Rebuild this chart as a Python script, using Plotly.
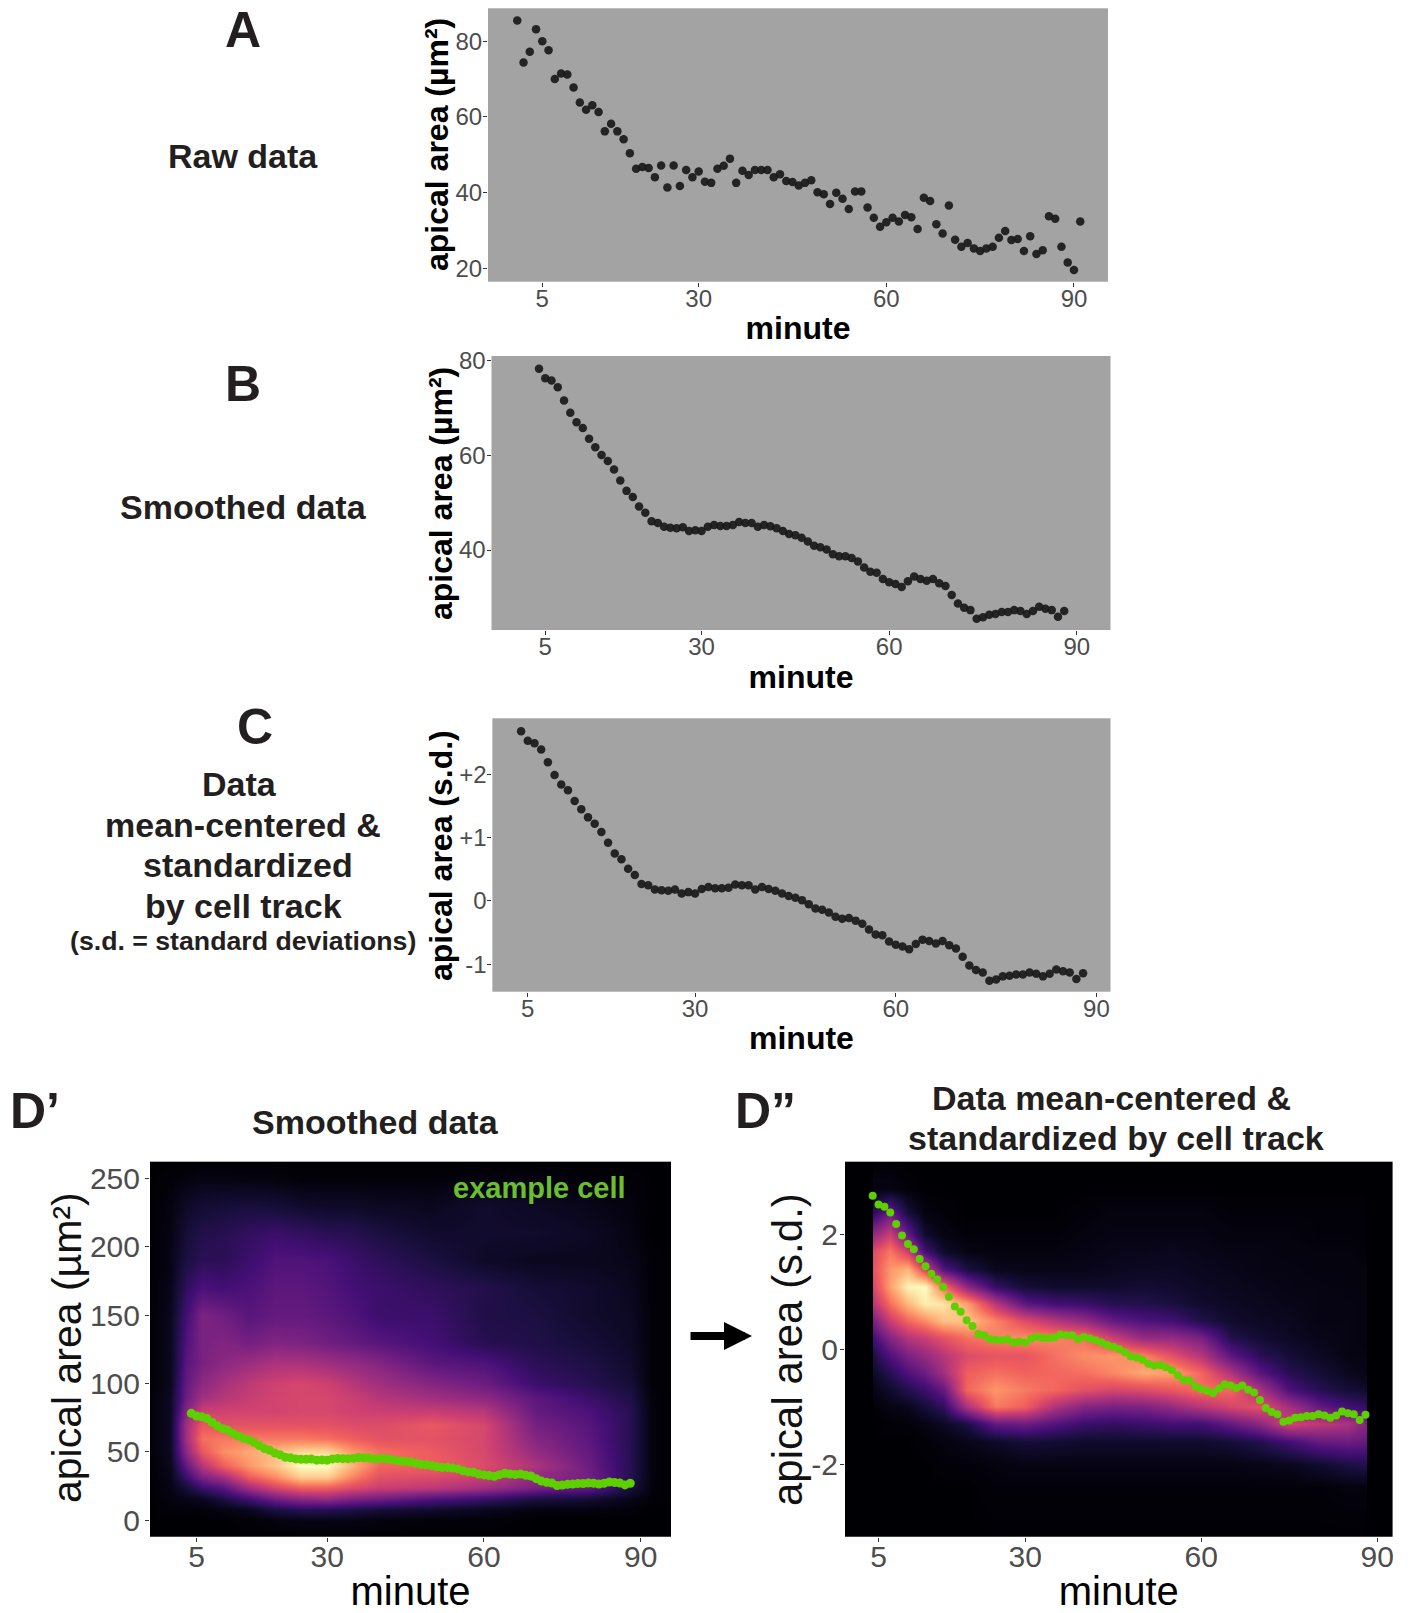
import numpy as np
import plotly.graph_objects as go

# ---------- data ----------
raw_minute = list(range(1, 92))
raw_area = [85.5,74.4,77.2,83.2,80,77.6,70,71.5,71.2,67.8,63.8,61.9,63.1,61.3,56.2,58.2,56.2,54.1,50.4,46.3,
            46.8,46.5,44.1,47.2,41.4,47.2,41.8,46,44.1,45.6,42.9,42.6,46.3,47.1,49,42.6,45.8,44.7,46,46,
            46,44.1,44.9,43.1,42.8,41.9,42.6,43.3,40.1,39.6,37,40,38.4,35.7,40.3,40.3,36.1,33.4,31,32.2,
            33.4,32.4,34.1,33.5,30.4,38.7,37.8,31.7,29.2,36.6,27.6,25.7,26.7,25.3,24.6,25.3,25.7,28.1,29.9,27.5,
            27.8,24.6,28.5,23.8,24.8,33.8,33.1,25.7,21.6,19.6,32.4]

smooth_minute = list(range(4, 89))
smooth_area = [78.3,76.3,75.8,74.4,71.6,69,67,65.8,63.5,61.7,60.1,58.8,57,54.7,52.5,51.2,49.2,47.9,46.1,45.7,
               44.9,44.7,44.6,44.8,44,44.2,44,44.9,45.3,45.1,45.1,45.3,45.9,45.7,45.7,44.9,45.3,45,44.6,44,
               43.4,43.1,42.6,41.8,40.9,40.6,40.1,39.1,38.7,38.7,38.3,37.6,36.3,35.4,35.2,33.9,33.2,32.8,32.2,33.4,
               34.4,33.9,33.5,33.9,33,32.4,30.5,28.7,27.8,27.3,25.5,25.8,26.3,26.5,26.9,26.9,27.3,27.1,26.5,27.1,
               28,27.6,27.3,25.9,27.1]
standard_sd = [2.68,2.53,2.49,2.39,2.19,1.99,1.84,1.75,1.58,1.45,1.32,1.22,1.09,.92,.75,.66,.51,.41,.27,.25,
               .18,.17,.16,.18,.12,.14,.12,.19,.22,.2,.2,.21,.26,.25,.25,.18,.22,.19,.16,.12,
               .08,.05,.01,-.05,-.12,-.14,-.18,-.25,-.28,-.27,-.31,-.36,-.45,-.53,-.54,-.64,-.69,-.72,-.76,-.68,
               -.61,-.63,-.67,-.63,-.7,-.75,-.88,-1.02,-1.09,-1.13,-1.26,-1.24,-1.19,-1.18,-1.16,-1.16,-1.13,-1.15,-1.19,-1.15,
               -1.08,-1.11,-1.13,-1.23,-1.14]

# density read by eye, one list per minute column, bottom row first
dens1_minute = [-4,0,3,6,10,15,20,25,30,35,40,50,60,70,80,88,92,96]
dens1_area = [-12,0,8,16,24,32,40,50,60,70,80,90,100,115,130,150,170,190,210,230,250,262]
dens1_columns = [
 [0]*22,
 [0,0,.01,.02,.03,.04,.05,.06,.06,.06,.06,.06,.05,.05,.05,.05,.04,.03,.03,.02,.01,0],
 [0,0,.01,.04,.1,.2,.3,.4,.45,.45,.38,.32,.3,.27,.25,.22,.17,.12,.1,.07,.02,0],
 [0,0,.01,.05,.2,.36,.5,.64,.7,.64,.55,.45,.4,.35,.35,.36,.24,.16,.14,.09,.03,0],
 [0,0,.03,.12,.27,.46,.66,.76,.72,.62,.56,.5,.46,.4,.37,.33,.22,.16,.15,.1,.03,0],
 [0,.01,.05,.22,.45,.66,.78,.82,.72,.62,.57,.54,.52,.44,.34,.27,.24,.2,.18,.11,.02,0],
 [0,.02,.12,.33,.58,.76,.88,.86,.72,.62,.57,.57,.56,.48,.37,.3,.28,.25,.2,.1,.02,0],
 [0,.03,.15,.4,.66,.9,1.0,.92,.72,.62,.58,.58,.58,.48,.36,.3,.28,.25,.18,.08,.01,0],
 [0,.03,.15,.42,.66,.9,1.0,.92,.7,.62,.58,.58,.56,.45,.33,.28,.26,.24,.16,.07,.01,0],
 [0,.03,.13,.36,.6,.74,.84,.78,.66,.6,.56,.55,.5,.42,.3,.25,.22,.2,.15,.07,.01,0],
 [0,.02,.1,.33,.55,.62,.68,.7,.62,.6,.55,.5,.45,.38,.27,.2,.2,.17,.12,.06,.01,0],
 [0,.01,.08,.25,.52,.6,.66,.65,.62,.64,.54,.45,.38,.28,.22,.2,.17,.12,.08,.05,.01,0],
 [0,.01,.05,.2,.45,.55,.6,.58,.58,.58,.5,.4,.32,.25,.15,.13,.14,.07,.08,.08,.02,0],
 [0,0,.02,.12,.35,.42,.48,.42,.38,.34,.3,.28,.2,.16,.13,.12,.1,.05,.08,.06,.02,0],
 [0,0,.02,.1,.3,.34,.32,.3,.28,.27,.24,.2,.15,.13,.1,.08,.08,.05,.06,.04,.01,0],
 [0,0,.01,.04,.12,.15,.15,.15,.15,.15,.15,.13,.1,.08,.07,.06,.05,.04,.03,.02,.01,0],
 [0,0,0,.01,.02,.02,.02,.02,.02,.02,.02,.02,.01,.01,.01,.01,.01,.01,0,0,0,0],
 [0]*22,
]

dens2_minute = [-1,3.9,4.1,7,10,13,16,20,25,30,35,40,45,50,55,60,65,70,75,80,85,88,88.2,93]
dens2_sd = [-3.3,-2.4,-2,-1.6,-1.3,-1,-.7,-.4,-.1,.2,.5,.8,1.1,1.4,1.7,2,2.4,2.8,3.3]
dens2_columns = [
 [0]*19,
 [0]*19,
 [0,0,0,0,0,.01,.03,.07,.12,.22,.35,.5,.58,.62,.6,.42,.15,.03,0],
 [0,0,0,0,.01,.03,.08,.15,.25,.38,.55,.7,.8,.78,.72,.55,.3,.03,0],
 [0,0,0,0,.01,.05,.14,.25,.35,.5,.68,.85,.98,.85,.55,.3,.1,.01,0],
 [0,0,0,.01,.03,.1,.2,.32,.42,.55,.76,.97,1.0,.58,.22,.08,.02,0,0],
 [0,0,.01,.02,.06,.17,.3,.45,.5,.62,.87,.95,.7,.27,.08,.03,.01,0,0],
 [0,0,.01,.04,.12,.48,.68,.66,.6,.7,.88,.8,.4,.12,.03,.01,0,0,0],
 [0,.01,.02,.07,.3,.72,.78,.7,.63,.74,.74,.5,.18,.05,.02,.01,0,0,0],
 [0,.01,.03,.1,.32,.66,.72,.67,.63,.76,.6,.28,.1,.04,.02,.01,0,0,0],
 [0,.01,.03,.09,.26,.48,.68,.68,.7,.74,.5,.22,.08,.04,.02,.01,0,0,0],
 [0,.01,.03,.08,.2,.38,.62,.7,.76,.7,.42,.2,.08,.04,.03,.02,.01,0,0],
 [0,.01,.03,.08,.18,.35,.58,.75,.78,.55,.3,.15,.08,.05,.04,.03,.02,0,0],
 [0,.01,.03,.08,.2,.36,.6,.82,.74,.42,.25,.14,.09,.06,.04,.03,.02,0,0],
 [0,.01,.03,.08,.22,.42,.64,.8,.62,.42,.22,.12,.08,.06,.05,.03,.02,0,0],
 [0,.01,.03,.08,.22,.5,.7,.68,.5,.35,.14,.08,.06,.05,.04,.03,.02,0,0],
 [0,.01,.03,.1,.3,.58,.68,.48,.28,.14,.08,.06,.05,.04,.03,.02,.01,0,0],
 [0,.01,.04,.14,.4,.62,.47,.27,.16,.09,.06,.05,.04,.03,.03,.02,.01,0,0],
 [0,.01,.05,.22,.57,.46,.24,.15,.1,.06,.05,.04,.03,.03,.02,.02,.01,0,0],
 [0,.01,.08,.3,.52,.3,.15,.1,.06,.04,.03,.03,.03,.02,.02,.01,.01,0,0],
 [0,.02,.12,.32,.48,.22,.1,.05,.03,.03,.03,.03,.02,.02,.02,.01,.01,0,0],
 [0,.02,.14,.3,.38,.18,.08,.03,.03,.02,.02,.02,.02,.02,.01,.01,.01,0,0],
 [0]*19,
 [0]*19,
]

minute_ticks = [5, 30, 60, 90]

# ---------- layout helpers ----------
W, H = 1411, 1613
FONT = "Liberation Sans"
INK = "#231f20"
TICK = "#4d4d4d"
GREEN = "#5ed000"
DOT = "rgba(25,25,25,0.92)"


def px(x):
    return x / W


def py(y):
    return 1 - y / H


def axes(i, box, xr, yr, yvals, ytext, tick_size, title_size, bold, ts_x, lab_x, lab_y):
    s = "" if i == 1 else str(i)
    l, t, r, b = box
    wrap = (lambda v: f"<b>{v}</b>") if bold else (lambda v: v)
    common = dict(showgrid=False, zeroline=False, showline=False, ticks="outside", ticklen=4,
                  tickwidth=1, tickcolor="#333333", tickfont=dict(family=FONT, size=tick_size, color=TICK))
    return {
        f"xaxis{s}": dict(domain=[px(l), px(r)], range=xr, anchor=f"y{s}", tickmode="array",
                          tickvals=minute_ticks, ticktext=[str(v) for v in minute_ticks], ticklabelstandoff=lab_x,
                          title=dict(text=wrap("minute"), standoff=ts_x,
                                     font=dict(family=FONT, size=title_size, color="#000000")), **common),
        f"yaxis{s}": dict(domain=[py(b), py(t)], range=yr, anchor=f"x{s}", tickmode="array",
                          tickvals=yvals, ticktext=ytext, ticklabelstandoff=lab_y, **common),
    }


fig = go.Figure()


def dots(i, x, y, color=DOT, size=8.5):
    s = "" if i == 1 else str(i)
    fig.add_trace(go.Scatter(x=x, y=y, mode="markers", xaxis=f"x{s}", yaxis=f"y{s}", showlegend=False,
                             marker=dict(color=color, size=size, line=dict(width=0))))


def heat(i, x, y, columns):
    s = str(i)
    fig.add_trace(go.Heatmap(x=x, y=y, z=np.array(columns, dtype=float).T.tolist(), xaxis=f"x{s}", yaxis=f"y{s}",
                             colorscale="Magma", zmin=0, zmax=1, zsmooth="best", showscale=False, hoverinfo="skip"))


dots(1, raw_minute, raw_area)
dots(2, smooth_minute, smooth_area)
dots(3, smooth_minute, standard_sd)
heat(4, dens1_minute, dens1_area, dens1_columns)
dots(4, smooth_minute, smooth_area, GREEN, 9)
heat(5, dens2_minute, dens2_sd, dens2_columns)
dots(5, smooth_minute, standard_sd, GREEN, 8)

AREA = "apical area (µm²)"
SD = "apical area (s.d.)"
layout = {}
layout.update(axes(1, (488, 8.3, 1108, 281.7), [-3.68, 95.44], [16.5, 88.7], [20, 40, 60, 80],
                   ["20", "40", "60", "80"], 24, 32, True, 6, -9, -4))
layout.update(axes(2, (491.5, 356, 1110.5, 630), [-3.6, 95.4], [23.1, 81], [40, 60, 80],
                   ["40", "60", "80"], 24, 32, True, 6, -9, -4))
layout.update(axes(3, (492.4, 718.3, 1110.5, 991.7), [-0.29, 92.1], [-1.432, 2.884], [-1, 0, 1, 2],
                   ["-1", "0", "+1", "+2"], 24, 32, True, 6, -9, -4))
layout.update(axes(4, (150, 1161.6, 671, 1537), [-3.9, 95.8], [-12.2, 262.4], [0, 50, 100, 150, 200, 250],
                   ["0", "50", "100", "150", "200", "250"], 30, 40, False, 14, -11, -1))
layout.update(axes(5, (845, 1161.6, 1392.5, 1537), [-0.72, 92.6], [-3.27, 3.277], [-2, 0, 2],
                   ["-2", "0", "2"], 30, 40, False, 14, -11, -4))


def text(x, y, t, size, color=INK, bold=True, angle=0):
    return dict(xref="paper", yref="paper", x=px(x), y=py(y), xanchor="center", yanchor="middle",
                text=f"<b>{t}</b>" if bold else t, showarrow=False, textangle=angle,
                font=dict(family=FONT, size=size, color=color))


notes = [
    text(243, 30, "A", 50), text(243, 384, "B", 50), text(255, 727, "C", 50),
    text(35, 1111, "D’", 50), text(765, 1111, "D”", 50),
    text(243, 156, "Raw data", 34), text(243, 507, "Smoothed data", 34),
    text(239, 784, "Data", 34), text(243, 825, "mean-centered &", 34),
    text(248, 865, "standardized", 34), text(243, 906, "by cell track", 34),
    text(243, 941, "(s.d. = standard deviations)", 26.7),
    text(376, 1122, "Smoothed data", 34),
    text(1111, 1098, "Data mean-centered &", 34),
    text(1116, 1138, "standardized by cell track", 34),
    text(539, 1188, "example cell", 29, "#6abf2e"),
    text(437, 145, AREA, 32, "#000000", True, -90),
    text(441, 493, AREA, 32, "#000000", True, -90),
    text(441, 855, SD, 32, "#000000", True, -90),
    text(67, 1348, AREA, 41, "#111111", False, -90),
    text(787, 1350, SD, 42, "#111111", False, -90),
    dict(xref="paper", yref="paper", x=px(752), y=py(1336), ax=-63, ay=0, text="", showarrow=True,
         arrowhead=2, arrowsize=0.7, arrowwidth=8, arrowcolor="#000000"),
]

fig.update_layout(width=W, height=H, margin=dict(l=0, r=0, t=0, b=0, autoexpand=False), paper_bgcolor="#ffffff",
                  plot_bgcolor="#a3a3a3", showlegend=False, annotations=notes, **layout)

fig.write_html("out.html", post_script="document.body.style.margin='0';", config={"displayModeBar": False})
